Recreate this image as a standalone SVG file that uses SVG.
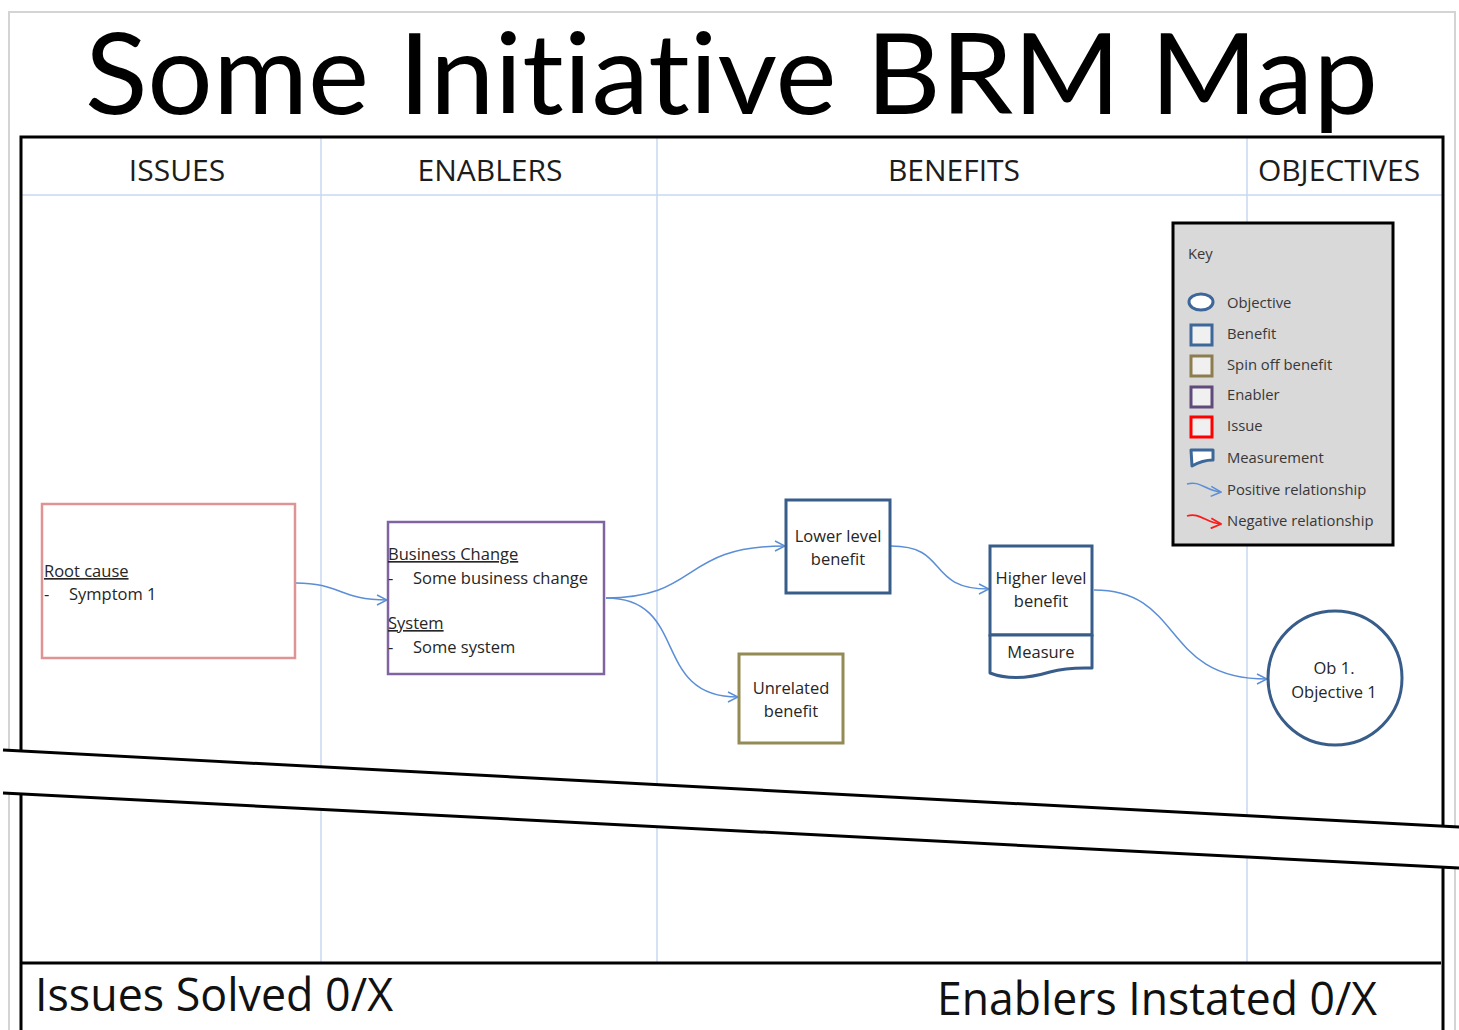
<svg xmlns="http://www.w3.org/2000/svg" width="1459" height="1030" viewBox="0 0 1459 1030">
  <style>
    .t { font-family: "Open Sans", "Noto Sans", "Liberation Sans", sans-serif; fill: #262626; }
    .title { font-family: Lato, "Open Sans", "Liberation Sans", sans-serif; font-size: 112px; fill: #000; font-variant-ligatures: none; font-feature-settings: "liga" 0, "dlig" 0; }
    .node-t { font-size: 16.5px; }
    .hdr { font-size: 30px; fill: #1c1c1c; }
    .foot { font-size: 45px; fill: #111; }
    .key-t { font-size: 14.8px; fill: #383838; }
    .grid { stroke: #c6d8ef; stroke-width: 1.5; fill: none; }
    .frame { stroke: #000; stroke-width: 3; fill: none; }
    .conn { stroke: #5b8ed6; stroke-width: 1.5; fill: none; marker-end: url(#arrow); }
    .u { text-decoration: underline; }
  </style>
  <defs>
    <marker id="arrow" viewBox="0 0 12 12" refX="11" refY="6" markerWidth="12" markerHeight="12" markerUnits="userSpaceOnUse" orient="auto">
      <path d="M1,1 L11,6 L1,11" fill="none" stroke="#5b8ed6" stroke-width="1.5"/>
    </marker>
    <marker id="arrow-red" viewBox="0 0 12 12" refX="11" refY="6" markerWidth="12" markerHeight="12" markerUnits="userSpaceOnUse" orient="auto">
      <path d="M1,1 L11,6 L1,11" fill="none" stroke="#ff1a1a" stroke-width="1.8"/>
    </marker>
  </defs>

  <rect width="1459" height="1030" fill="#fff"/>

  <!-- page edge -->
  <path d="M9,1030 V12 H1455 V1030" fill="none" stroke="#d4d4d4" stroke-width="2"/>

  <!-- title -->
  <text class="title" x="85" y="114" textLength="1293" lengthAdjust="spacingAndGlyphs">Some Initiative BRM Map</text>

  <!-- swimlane grid -->
  <g id="grid">
    <line class="grid" x1="21" y1="195" x2="1443" y2="195"/>
    <line class="grid" x1="321" y1="137" x2="321" y2="963"/>
    <line class="grid" x1="657" y1="137" x2="657" y2="963"/>
    <line class="grid" x1="1247" y1="137" x2="1247" y2="963"/>
    <path class="frame" d="M21,1030 V137 H1443 V1030"/>
    <line class="frame" x1="21" y1="963" x2="1441" y2="963"/>
    <text class="t hdr" x="177" y="181" text-anchor="middle">ISSUES</text>
    <text class="t hdr" x="490" y="181" text-anchor="middle">ENABLERS</text>
    <text class="t hdr" x="954" y="181" text-anchor="middle">BENEFITS</text>
    <text class="t hdr" x="1339" y="181" text-anchor="middle">OBJECTIVES</text>
  </g>

  <!-- key -->
  <g id="key">
    <rect x="1173" y="223" width="220" height="322" fill="#d9d9d9" stroke="#000" stroke-width="3"/>
    <text class="t key-t" x="1188" y="259">Key</text>
    <ellipse cx="1201" cy="302" rx="12" ry="8" fill="#fff" stroke="#3d6699" stroke-width="3"/>
    <text class="t key-t" x="1227" y="308">Objective</text>
    <rect x="1191" y="325" width="21" height="20" fill="#f0f0f0" stroke="#3d6699" stroke-width="3"/>
    <text class="t key-t" x="1227" y="339">Benefit</text>
    <rect x="1191" y="356" width="21" height="20" fill="#f0f0f0" stroke="#8c7d4f" stroke-width="3"/>
    <text class="t key-t" x="1227" y="370">Spin off benefit</text>
    <rect x="1191" y="387" width="21" height="20" fill="#f0f0f0" stroke="#604a7b" stroke-width="3"/>
    <text class="t key-t" x="1227" y="400">Enabler</text>
    <rect x="1191" y="417" width="21" height="20" fill="#f0f0f0" stroke="#ff0000" stroke-width="3"/>
    <text class="t key-t" x="1227" y="431">Issue</text>
    <path d="M1191,450 H1213 V460 C1206,460 1199,462 1192,466 Z" fill="#fff" stroke="#3d6699" stroke-width="3" stroke-linejoin="round"/>
    <text class="t key-t" x="1227" y="463">Measurement</text>
    <path class="conn" d="M1187,484 C1200,480 1206,491 1221,492"/>
    <text class="t key-t" x="1227" y="495">Positive relationship</text>
    <path d="M1187,516 C1200,512 1206,523 1221,524" fill="none" stroke="#ff1a1a" stroke-width="1.8" marker-end="url(#arrow-red)"/>
    <text class="t key-t" x="1227" y="526">Negative relationship</text>
  </g>

  <!-- connectors -->
  <g id="connectors">
    <path class="conn" d="M296,583 C340,583 340,600 387,600"/>
    <path class="conn" d="M606,598 C700,598 680,546 785,546"/>
    <path class="conn" d="M606,598 C690,598 650,697 738,697"/>
    <path class="conn" d="M891,546 C950,546 925,589 989,589"/>
    <path class="conn" d="M1094,590 C1185,590 1160,679 1267,679"/>
  </g>

  <!-- nodes -->
  <g id="issue-root-cause">
    <rect x="42" y="504" width="253" height="154" fill="#fff" stroke="#e09393" stroke-width="2.5"/>
    <text class="t node-t u" x="44" y="577">Root cause</text>
    <text class="t node-t" x="44" y="600">-</text>
    <text class="t node-t" x="69" y="600">Symptom 1</text>
  </g>

  <g id="enabler">
    <rect x="388" y="522" width="216" height="152" fill="#fff" stroke="#8064a2" stroke-width="2.5"/>
    <text class="t node-t u" x="388" y="560">Business Change</text>
    <text class="t node-t" x="388" y="584">-</text>
    <text class="t node-t" x="413" y="584">Some business change</text>
    <text class="t node-t u" x="388" y="629">System</text>
    <text class="t node-t" x="388" y="653">-</text>
    <text class="t node-t" x="413" y="653">Some system</text>
  </g>

  <g id="benefit-lower">
    <rect x="786" y="500" width="104" height="93" fill="#fff" stroke="#385d8a" stroke-width="3"/>
    <text class="t node-t" x="838" y="542" text-anchor="middle">Lower level</text>
    <text class="t node-t" x="838" y="565" text-anchor="middle">benefit</text>
  </g>

  <g id="benefit-unrelated">
    <rect x="739" y="654" width="104" height="89" fill="#fff" stroke="#948a54" stroke-width="3"/>
    <text class="t node-t" x="791" y="694" text-anchor="middle">Unrelated</text>
    <text class="t node-t" x="791" y="717" text-anchor="middle">benefit</text>
  </g>

  <g id="benefit-higher">
    <rect x="990" y="546" width="102" height="89" fill="#fff" stroke="#385d8a" stroke-width="3"/>
    <path d="M990,635 V673 C1008,680 1030,678 1050,672 C1068,667 1082,668 1092,668 V635 Z" fill="#fff" stroke="#385d8a" stroke-width="3" stroke-linejoin="round"/>
    <text class="t node-t" x="1041" y="584" text-anchor="middle">Higher level</text>
    <text class="t node-t" x="1041" y="607" text-anchor="middle">benefit</text>
    <text class="t node-t" x="1041" y="658" text-anchor="middle">Measure</text>
  </g>

  <g id="objective-1">
    <circle cx="1335" cy="678" r="67" fill="#fff" stroke="#385d8a" stroke-width="3"/>
    <text class="t node-t" x="1334" y="674" text-anchor="middle">Ob 1.</text>
    <text class="t node-t" x="1334" y="698" text-anchor="middle">Objective 1</text>
  </g>

  <!-- break band across the sheet -->
  <g id="break">
    <polygon points="3,750 1459,827 1459,868 3,793" fill="#fff"/>
    <line x1="3" y1="750" x2="1459" y2="827" stroke="#000" stroke-width="3"/>
    <line x1="3" y1="793" x2="1459" y2="868" stroke="#000" stroke-width="3"/>
  </g>

  <!-- footer counters -->
  <text class="t foot" x="35" y="1011" textLength="358" lengthAdjust="spacingAndGlyphs">Issues Solved 0/X</text>
  <text class="t foot" x="937" y="1015" textLength="440" lengthAdjust="spacingAndGlyphs">Enablers Instated 0/X</text>
</svg>
